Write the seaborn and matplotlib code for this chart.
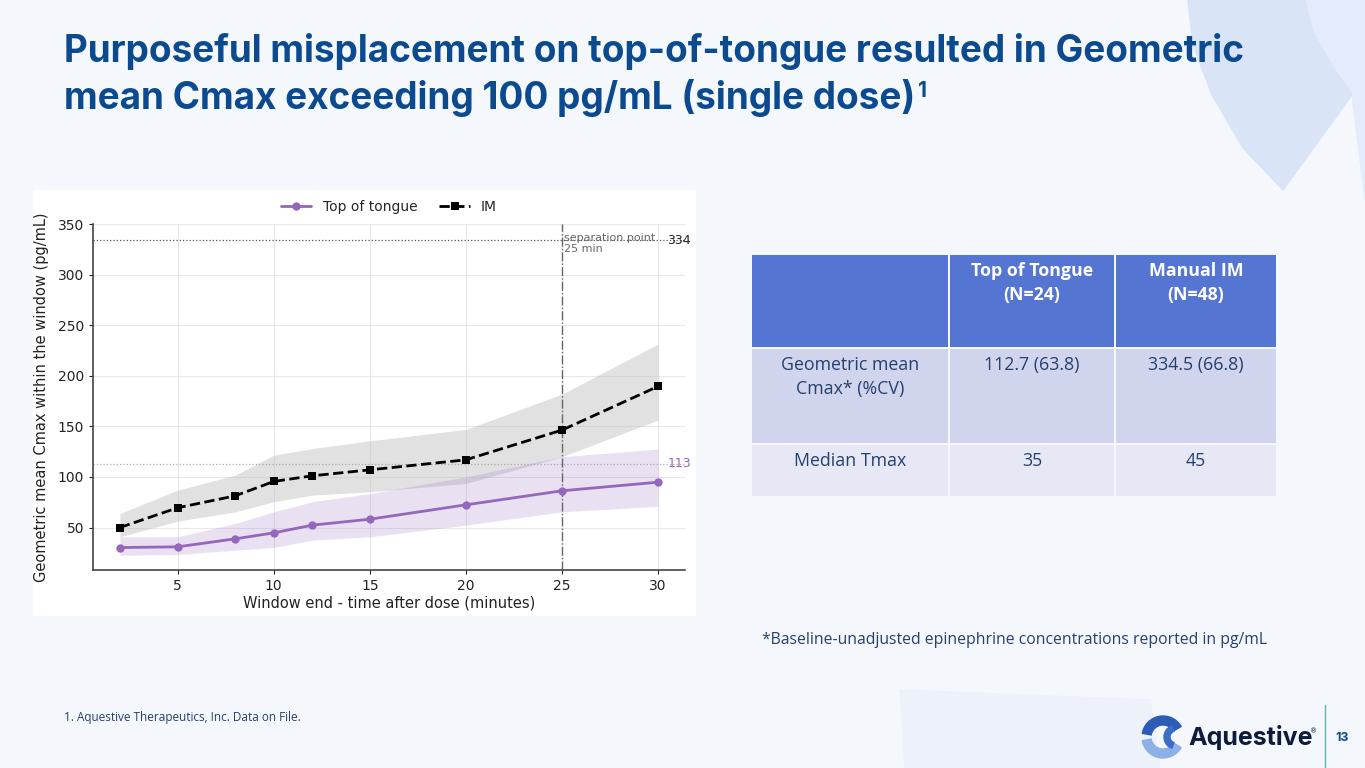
import matplotlib
matplotlib.use("Agg")
import matplotlib.pyplot as plt
import matplotlib.transforms as mtransforms
from matplotlib.patches import Rectangle, Wedge, Polygon
import seaborn as sns

# window end times (minutes)
window_end = [2, 5, 8, 10, 12, 15, 20, 25, 30]

# top of tongue: geometric mean and band
tot_mean = [30.2, 30.9, 38.8, 44.7, 52.3, 58.2, 72.4, 86.3, 94.8]
tot_lo = [22.6, 23.3, 27.6, 30.2, 37.5, 40.8, 52.3, 65.5, 71.0]
tot_hi = [40.8, 40.8, 54.0, 65.5, 75.4, 83.6, 100.0, 120.0, 127.5]

# IM: geometric mean and band
im_mean = [50.0, 69.5, 81.3, 95.5, 101.1, 107.0, 116.9, 146.3, 189.5]
im_lo = [40.8, 56.3, 65.5, 75.4, 82.0, 85.3, 93.5, 120.0, 156.2]
im_hi = [63.8, 86.9, 101.8, 121.5, 128.0, 135.7, 146.9, 181.9, 231.3]

ref_im = 334
ref_tot = 113
sep_point = 25
y_ticks = [50, 100, 150, 200, 250, 300, 350]

title_lines = ["Purposeful misplacement on top-of-tongue resulted in Geometric",
               "mean Cmax exceeding 100 pg/mL (single dose)"]

table_cols = ["", "Top of Tongue\n(N=24)", "Manual IM\n(N=48)"]
table_rows = [
    ["Geometric mean\nCmax* (%CV)", "112.7 (63.8)", "334.5 (66.8)"],
    ["Median Tmax", "35", "45"],
]

NAVY = "#0C4A8F"
TXT = "#26406F"
PURPLE = "#9467BD"

sns.set_theme(style="whitegrid")
plt.rcParams["font.family"] = ["DejaVu Sans"]

fig = plt.figure(figsize=(13.65, 7.68), dpi=100, facecolor="#F4F7FC")
W, H = 1365, 768


def fx(px):
    return px / W


def fy(py):
    return 1 - py / H


def pts(seq):
    return [(fx(a), fy(b)) for a, b in seq]


# soft background shapes
fig.patches.append(Polygon(pts([(1305, 0), (1365, 0), (1365, 200), (1352, 95), (1333, 67), (1313, 33)]),
                           closed=True, transform=fig.transFigure,
                           color="#E4EBFA", zorder=-3))
fig.patches.append(Polygon(pts([(1188, 0), (1193, 45), (1212, 95), (1243, 148), (1283, 190),
                                (1352, 95), (1333, 67), (1313, 33), (1305, 0)]),
                           closed=True, transform=fig.transFigure,
                           color="#DAE4F7", zorder=-3))
fig.patches.append(Polygon(pts([(900, 690), (1150, 700), (1160, 768), (905, 768)]),
                           closed=True, transform=fig.transFigure,
                           color="#EDF1FA", zorder=-3))

# white chart panel
fig.patches.append(Rectangle((fx(33), fy(615)), fx(662), 425 / H,
                             transform=fig.transFigure, color="#FFFFFF", zorder=-2))

# title
for i, line in enumerate(title_lines):
    fig.text(fx(64), fy(62 + 47 * i), line, fontsize=26.6, fontweight="bold",
             color=NAVY, family="Inter", va="baseline", ha="left")
fig.text(fx(918), fy(81), "1", fontsize=15, fontweight="bold", color=NAVY,
         family="Inter", va="top", ha="left")

# chart
ax = fig.add_axes([fx(93), fy(570), fx(685) - fx(93), (570 - 224) / H])
ax.set_facecolor("white")

ax.fill_between(window_end, im_lo, im_hi, color="#BDBDBD", alpha=0.45, lw=0, zorder=1)
ax.fill_between(window_end, tot_lo, tot_hi, color=PURPLE, alpha=0.2, lw=0, zorder=1)

sns.lineplot(x=window_end, y=tot_mean, ax=ax, color=PURPLE, marker="o",
             markersize=6, markeredgewidth=0, linewidth=2, label="Top of tongue", zorder=3)
sns.lineplot(x=window_end, y=im_mean, ax=ax, color="black", marker="s",
             markersize=6, markeredgewidth=0, linewidth=2, linestyle="--",
             label="IM", zorder=3)

ax.axhline(ref_im, color="#555555", lw=0.9, ls=":", zorder=2)
ax.axhline(ref_tot, color="#9A9A9A", lw=0.9, ls=":", alpha=0.8, zorder=2)
ax.axvline(sep_point, color="#666666", lw=1, ls="-.", zorder=2)

trans = mtransforms.blended_transform_factory(ax.transAxes, ax.transData)
ax.text(0.97, ref_im, str(ref_im), transform=trans, ha="left", va="center",
        fontsize=9, color="#222222", zorder=4)
ax.text(0.97, ref_tot, str(ref_tot), transform=trans, ha="left", va="center",
        fontsize=9, color=PURPLE, zorder=4)
ax.text(sep_point + 0.1, 341, "separation point\n25 min", ha="left", va="top",
        fontsize=8, color="#666666", zorder=4, linespacing=1.1)

ax.set_xlim(0.6, 31.4)
ax.set_ylim(8, 350)
ax.set_yticks(y_ticks)
ax.set_xticks([5, 10, 15, 20, 25, 30])
ax.grid(True, color="#E8E8E8", lw=0.8)
sns.despine(ax=ax)
for s in ["left", "bottom"]:
    ax.spines[s].set_color("#444444")
    ax.spines[s].set_linewidth(1.2)
ax.tick_params(axis="both", labelsize=10, colors="#222222", length=3,
               left=True, bottom=True, width=0.8)
ax.set_xlabel("Window end - time after dose (minutes)", fontsize=10.5,
              color="#222222", labelpad=2)
ax.set_ylabel("Geometric mean Cmax within the window (pg/mL)", fontsize=10.5,
              color="#222222", labelpad=6)
ax.legend(loc="lower center", bbox_to_anchor=(0.5, 1.0), ncol=2, frameon=False,
          fontsize=10, columnspacing=1.6, handlelength=2.2, borderaxespad=0.3)

# table
tax = fig.add_axes([0, 0, 1, 1], facecolor="none")
tax.set_xlim(0, W)
tax.set_ylim(H, 0)
tax.axis("off")
col_x = [752, 950, 1116, 1278]
row_y = [255, 349, 445, 498]
row_col = ["#5475D1", "#D0D4EC", "#E6E8F5"]
for r in range(3):
    for c in range(3):
        x0, x1 = col_x[c], col_x[c + 1] - 2
        y0, y1 = row_y[r], row_y[r + 1] - 2
        tax.add_patch(Rectangle((x0, y0), x1 - x0, y1 - y0, color=row_col[r], lw=0))
        cx = (x0 + x1) / 2
        if r == 0:
            tax.text(cx, y0 + 7, table_cols[c], ha="center", va="top", fontsize=12.8,
                     fontweight="bold", color="white", family="Open Sans",
                     linespacing=1.45)
        else:
            tax.text(cx, y0 + 7, table_rows[r - 1][c], ha="center", va="top",
                     fontsize=12.8, color=TXT, family="Open Sans", linespacing=1.45)

# footnotes
fig.text(fx(762), fy(640), "*Baseline-unadjusted epinephrine concentrations reported in pg/mL",
         fontsize=11.3, color=TXT, family="Open Sans", va="center", ha="left")
fig.text(fx(64), fy(718), "1. Aquestive Therapeutics, Inc. Data on File.",
         fontsize=8.5, color=TXT, family="Open Sans", va="center", ha="left")

# logo
tax.add_patch(Wedge((1163, 737), 21, 190, 330, width=9, color="#2C5CB5"))
tax.add_patch(Wedge((1163, 737), 21, 30, 170, width=9, color="#8DB0E6"))
tax.add_patch(Wedge((1176, 737), 12, 110, 250, width=6, color="#3C6CC4"))
tax.text(1188, 738, "Aquestive", fontsize=18, fontweight="bold", color="#0E1B3C",
         family="Inter", va="center", ha="left")
tax.text(1310, 731, "®", fontsize=5, color="#0E1B3C", va="center", ha="left")
tax.plot([1325, 1325], [705, 768], color="#5DB5AF", lw=1)
tax.text(1342, 738, "13", fontsize=9, fontweight="bold", color=NAVY,
         family="Inter", va="center", ha="center")

fig.savefig("out.png", dpi=100, facecolor=fig.get_facecolor())
